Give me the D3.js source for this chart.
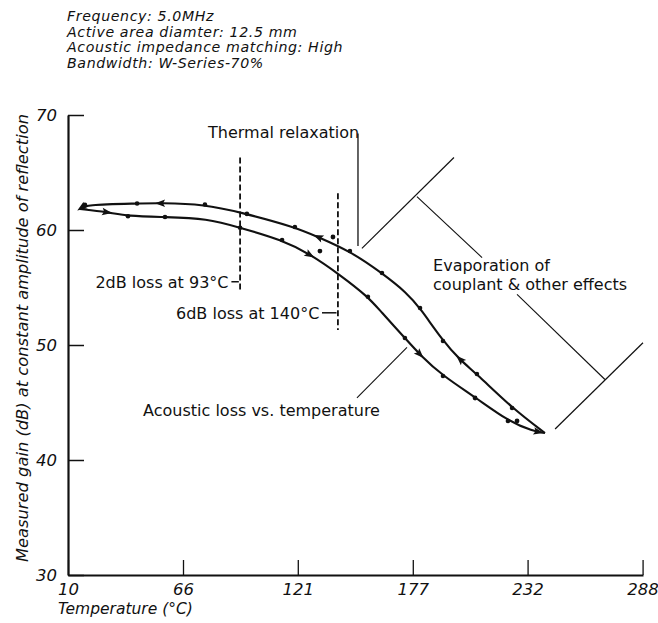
<!DOCTYPE html>
<head>
<meta charset="utf-8">
<title>Acoustic loss vs temperature</title>
<script type="text/javascript" src="https://d3js.org/d3.v7.min.js"></script>
<style>
body { margin: 0; background: #fff; }
text { font-family: "DejaVu Sans", sans-serif; fill: #111; }
.axis path, .axis line { stroke: #111; }
</style>
</head>
<body>
<div id="container"></div>
<script>
//*******************
// data
//*******************
const headerLines = [
  "Frequency: 5.0MHz",
  "Active area diamter: 12.5 mm",
  "Acoustic impedance matching: High",
  "Bandwidth: W-Series-70%"
];

const xTickValues = [10, 65.6, 121.1, 176.7, 232.2, 287.8];
const xTickLabels = ["10", "66", "121", "177", "232", "288"];
const yTickValues = [30, 40, 50, 60, 70];

// heating branch (lower curve, arrows to the right)
const lowerTemp = [15.8, 28.9, 39.0, 56.9, 77.2, 93.2, 113.5, 127.0, 141.5, 155.0, 160.8, 172.9, 180.2, 191.3, 206.8, 222.7, 234.8, 240.6];
const lowerGain = [61.83, 61.57, 61.2, 61.13, 61.0, 60.2, 59.13, 57.91, 56.09, 54.2, 53.0, 50.61, 49.13, 47.30, 45.48, 43.39, 42.5, 42.35];

// cooling branch (upper curve, arrows to the left)
const upperTemp = [15.8, 18.2, 43.4, 54.5, 76.2, 93.2, 119.7, 130.9, 146.3, 161.8, 173.9, 180.2, 191.3, 199.5, 207.7, 224.7, 240.6];
const upperGain = [61.83, 62.2, 62.3, 62.35, 62.22, 61.55, 60.26, 59.39, 58.17, 56.26, 54.52, 53.22, 50.35, 48.70, 47.48, 44.52, 42.35];

// measured points sitting on the curves
const upperMarkTemp = [18.2, 43.4, 76.2, 96.5, 119.7, 146.3, 161.8, 180.2, 191.3, 207.7, 224.7];
const upperMarkGain = [62.2, 62.3, 62.22, 61.4, 60.26, 58.17, 56.26, 53.22, 50.35, 47.48, 44.52];
const lowerMarkTemp = [39.0, 56.9, 93.2, 113.5, 155.0, 172.9, 191.3, 222.7];
const lowerMarkGain = [61.2, 61.13, 60.2, 59.13, 54.2, 50.61, 47.30, 43.39];

// stray points off the curves
const strayTemp = [138.1, 131.8, 206.8, 227.1];
const strayGain = [59.39, 58.17, 45.39, 43.39];

// direction arrows
const upperArrowTemp = [16.5, 54.5, 130.9, 199.5];
const lowerArrowTemp = [28.9, 127.0, 180.2, 237.5];

//*******************
// setup svg
//*******************
const W = 658, H = 623;
const svg = d3.select("div#container").append("svg")
    .attr("width", W)
    .attr("height", H);

const xScale = d3.scaleLinear().domain([10, 288]).range([68, 643]);
const yScale = d3.scaleLinear().domain([30, 70]).range([575, 115]);

//*******************
// header
//*******************
svg.append("g").selectAll("text")
    .data(headerLines)
    .enter().append("text")
    .attr("x", 67)
    .attr("y", (d, i) => 21 + i * 15.5)
    .style("font-size", "14.2px")
    .style("letter-spacing", "0.6px")
    .style("font-style", "italic")
    .text(d => d);

//*******************
// axes
//*******************
const xaxis = d3.axisBottom(xScale)
    .tickValues(xTickValues)
    .tickFormat((d, i) => xTickLabels[i])
    .tickSize(-15)
    .tickSizeOuter(0)
    .tickPadding(8);

const yaxis = d3.axisLeft(yScale)
    .tickValues(yTickValues)
    .tickSize(-16)
    .tickSizeOuter(0)
    .tickPadding(11);

const gx = svg.append("g")
    .attr("class", "axis")
    .attr("transform", "translate(0," + yScale(30) + ")")
    .call(xaxis);
gx.select(".domain").attr("stroke-width", 2.2);
gx.selectAll(".tick line").attr("stroke-width", 1.3);
gx.selectAll(".tick text")
    .style("font-size", "16.5px")
    .style("font-style", "italic")
    .style("font-family", "DejaVu Sans");

const gy = svg.append("g")
    .attr("class", "axis")
    .attr("transform", "translate(" + xScale(10) + ",0)")
    .call(yaxis);
gy.select(".domain").attr("stroke-width", 2.2);
gy.selectAll(".tick line").attr("stroke-width", 1.5);
gy.selectAll(".tick text")
    .style("font-size", "16.5px")
    .style("font-style", "italic")
    .style("font-family", "DejaVu Sans");

// axis titles
svg.append("text")
    .attr("transform", "translate(28,338) rotate(-90)")
    .attr("text-anchor", "middle")
    .style("font-size", "16.3px")
    .style("font-style", "italic")
    .text("Measured gain (dB) at constant amplitude of reflection");

svg.append("text")
    .attr("x", 58)
    .attr("y", 614)
    .style("font-size", "15.5px")
    .style("font-style", "italic")
    .text("Temperature (°C)");

//*******************
// curves
//*******************
const line = d3.line()
    .x(d => xScale(d[0]))
    .y(d => yScale(d[1]))
    .curve(d3.curveBasis);

const upperPath = svg.append("path")
    .datum(d3.zip(upperTemp, upperGain))
    .attr("fill", "none")
    .attr("stroke", "#111")
    .attr("stroke-width", 2.1)
    .attr("d", line);

const lowerPath = svg.append("path")
    .datum(d3.zip(lowerTemp, lowerGain))
    .attr("fill", "none")
    .attr("stroke", "#111")
    .attr("stroke-width", 2.1)
    .attr("d", line);

// find the spot on a path at a given x, and its heading
function onPath(node, px) {
  const total = node.getTotalLength();
  let lo = 0, hi = total;
  for (let k = 0; k < 40; k++) {
    const mid = (lo + hi) / 2;
    if (node.getPointAtLength(mid).x < px) lo = mid; else hi = mid;
  }
  const L = (lo + hi) / 2;
  const a = node.getPointAtLength(Math.max(0, L - 1.5));
  const b = node.getPointAtLength(Math.min(total, L + 1.5));
  const p = node.getPointAtLength(L);
  return {x: p.x, y: p.y, ang: Math.atan2(b.y - a.y, b.x - a.x) * 180 / Math.PI};
}

function drawArrows(temps, pathSel, reverse) {
  const node = pathSel.node();
  svg.append("g").selectAll("path")
    .data(temps)
    .enter().append("path")
    .attr("d", "M5,0 L-5,-3.8 L-3,0 L-5,3.8 Z")
    .attr("fill", "#111")
    .attr("transform", function(t) {
      const p = onPath(node, xScale(t));
      return "translate(" + p.x + "," + p.y + ") rotate(" + (p.ang + (reverse ? 180 : 0)) + ")";
    });
}
drawArrows(upperArrowTemp, upperPath, true);
drawArrows(lowerArrowTemp, lowerPath, false);

// measured points
function drawDots(temps, gains, r) {
  svg.append("g").selectAll("circle")
    .data(d3.zip(temps, gains))
    .enter().append("circle")
    .attr("cx", d => xScale(d[0]))
    .attr("cy", d => yScale(d[1]))
    .attr("r", r)
    .attr("fill", "#111");
}
drawDots(upperMarkTemp, upperMarkGain, 2.3);
drawDots(lowerMarkTemp, lowerMarkGain, 2.3);
drawDots(strayTemp, strayGain, 2.4);

//*******************
// annotations (in data units)
//*******************
function seg(x1, y1, x2, y2, w, dash) {
  svg.append("line")
    .attr("x1", xScale(x1)).attr("y1", yScale(y1))
    .attr("x2", xScale(x2)).attr("y2", yScale(y2))
    .attr("stroke", "#111")
    .attr("stroke-width", w)
    .attr("stroke-dasharray", dash || null);
}
function label(x, y, s, anchor) {
  svg.append("text")
    .attr("x", xScale(x)).attr("y", yScale(y))
    .attr("text-anchor", anchor || "start")
    .style("font-size", "16px")
    .text(s);
}

// 2dB loss at 93 C
seg(93.2, 66.3, 93.2, 54.8, 1.8, "6,3");
seg(89.0, 55.5, 92.6, 55.5, 1.5);
label(87.6, 55.0, "2dB loss at 93°C", "end");

// 6dB loss at 140 C
seg(140.5, 63.2, 140.5, 51.3, 1.8, "6,3");
seg(132.8, 52.8, 139.8, 52.8, 1.5);
label(131.5, 52.3, "6dB loss at 140°C", "end");

// thermal relaxation
label(150.8, 68.0, "Thermal relaxation", "end");
seg(150.2, 68.4, 150.2, 58.6, 1.3);

// evaporation brackets
seg(152.1, 58.4, 196.6, 66.3, 1.2);
seg(178.7, 62.9, 210.2, 57.6, 1.1);
label(186.5, 56.4, "Evaporation of");
label(186.5, 54.8, "couplant & other effects");
seg(227.1, 54.4, 269.6, 47.0, 1.1);
seg(245.5, 42.7, 288.0, 50.2, 1.2);

// acoustic loss label
label(46.3, 43.8, "Acoustic loss vs. temperature");
seg(149.7, 45.4, 173.9, 49.8, 1.1);
</script>
</body>
